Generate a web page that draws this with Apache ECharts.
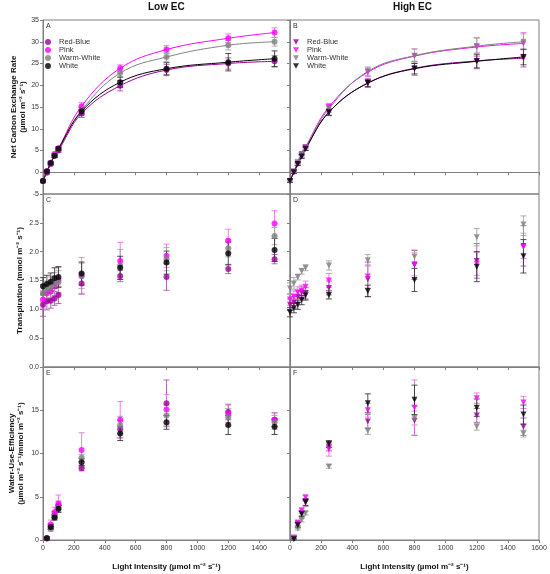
<!DOCTYPE html>
<html style="height: 100%">
<head>
<meta charset="UTF-8">
</head>
<body style="height: 100%; margin: 0; background: #fff">
<div id="container" style="width: 550px; height: 574px"></div>
<script type="text/javascript" src="https://cdn.jsdelivr.net/npm/echarts@6.0.0/dist/echarts.min.js"></script>
<script type="text/javascript">
// light levels
var light = [0, 25, 50, 75, 100, 250, 500, 800, 1200, 1500];
var lightWue = [25, 50, 75, 100, 250, 500, 800, 1200, 1500];
var names = ['Red-Blue', 'Pink', 'Warm-White', 'White'];

// A - net carbon exchange, low EC
var ncerLow = [
  [-2.0, -0.1, 1.9, 3.8, 5.0, 13.5, 19.9, 23.5, 25.0, 25.5],
  [-2.0, 0.3, 2.2, 4.2, 5.5, 15.2, 23.9, 28.2, 30.8, 32.1],
  [-2.0, 0.2, 2.1, 3.9, 5.3, 14.2, 22.8, 26.5, 29.2, 30.0],
  [-2.0, 0.2, 2.1, 3.8, 5.4, 14.0, 20.7, 23.8, 25.3, 26.1]
];
var ncerLowErr = [
  [0.3, 0.3, 0.3, 0.4, 0.4, 0.9, 1.2, 1.3, 1.3, 1.3],
  [0.3, 0.3, 0.3, 0.4, 0.4, 0.8, 0.8, 0.9, 1.0, 1.1],
  [0.3, 0.3, 0.3, 0.4, 0.4, 0.8, 1.0, 1.0, 1.1, 1.0],
  [0.3, 0.3, 0.3, 0.4, 0.4, 0.8, 1.2, 1.4, 2.0, 1.8]
];
// B - net carbon exchange, high EC
var ncerHigh = [
  [-2.0, 0.0, 1.9, 3.7, 5.4, 13.8, 20.5, 23.9, 25.6, 26.2],
  [-2.0, 0.2, 2.3, 4.2, 5.8, 15.0, 23.0, 26.7, 28.8, 29.6],
  [-2.0, 0.2, 2.2, 4.1, 5.7, 14.6, 23.2, 26.8, 29.0, 30.0],
  [-2.0, 0.0, 1.9, 3.6, 5.4, 13.8, 20.5, 23.8, 25.5, 26.5]
];
var ncerHighErr = [
  [0.3, 0.3, 0.3, 0.4, 0.4, 0.8, 1.0, 1.6, 1.8, 2.0],
  [0.3, 0.3, 0.3, 0.4, 0.4, 0.8, 1.0, 1.7, 2.2, 2.5],
  [0.3, 0.3, 0.3, 0.4, 0.4, 0.8, 1.0, 1.5, 1.8, 1.8],
  [0.3, 0.3, 0.3, 0.4, 0.4, 0.7, 0.8, 1.2, 1.5, 1.8]
];
// C - transpiration, low EC
var transLow = [
  [1.08, 1.14, 1.15, 1.19, 1.25, 1.45, 1.58, 1.56, 1.70, 1.87],
  [1.17, 1.28, 1.31, 1.40, 1.51, 1.58, 1.84, 1.93, 2.19, 2.49],
  [1.28, 1.34, 1.38, 1.44, 1.47, 1.58, 1.76, 1.87, 2.06, 2.27],
  [1.40, 1.44, 1.48, 1.54, 1.56, 1.62, 1.72, 1.81, 1.97, 2.03]
];
var transLowErr = [
  [0.20, 0.15, 0.13, 0.12, 0.15, 0.18, 0.10, 0.23, 0.08, 0.08],
  [0.15, 0.15, 0.15, 0.18, 0.22, 0.32, 0.32, 0.20, 0.20, 0.22],
  [0.15, 0.15, 0.18, 0.20, 0.20, 0.22, 0.28, 0.20, 0.15, 0.15],
  [0.15, 0.15, 0.15, 0.18, 0.18, 0.20, 0.20, 0.20, 0.20, 0.20]
];
// D - transpiration, high EC
var transHigh = [
  [1.08, 1.12, 1.22, 1.29, 1.28, 1.37, 1.52, 1.77, 1.84, 2.10],
  [1.17, 1.22, 1.29, 1.32, 1.39, 1.50, 1.57, 1.78, 1.79, 2.08],
  [1.36, 1.45, 1.56, 1.66, 1.72, 1.76, 1.85, 1.91, 2.25, 2.47],
  [0.95, 1.02, 1.08, 1.16, 1.24, 1.25, 1.32, 1.51, 1.74, 1.92]
];
var transHighErr = [
  [0.10, 0.10, 0.10, 0.10, 0.10, 0.12, 0.30, 0.25, 0.30, 0.35],
  [0.10, 0.10, 0.10, 0.10, 0.10, 0.12, 0.20, 0.20, 0.20, 0.20],
  [0.10, 0.10, 0.05, 0.05, 0.05, 0.08, 0.10, 0.12, 0.15, 0.15],
  [0.08, 0.08, 0.08, 0.08, 0.08, 0.07, 0.10, 0.20, 0.26, 0.29]
];
// E - water use efficiency, low EC
var wueLow = [
  [0.2, 1.55, 2.9, 4.0, 8.3, 12.8, 15.8, 14.8, 13.9],
  [0.2, 1.8, 3.2, 4.2, 10.4, 13.9, 15.1, 14.6, 13.9],
  [0.2, 1.3, 2.7, 3.7, 9.5, 13.3, 14.4, 14.2, 13.6],
  [0.2, 1.5, 2.6, 3.6, 9.0, 12.3, 13.6, 13.3, 13.1]
];
var wueLowErr = [
  [0.2, 0.3, 0.4, 0.5, 0.3, 1.0, 2.7, 0.9, 0.8],
  [0.2, 0.5, 0.6, 1.0, 2.0, 2.1, 1.7, 1.0, 0.8],
  [0.2, 0.3, 0.3, 0.4, 0.4, 1.0, 1.2, 1.0, 0.8],
  [0.2, 0.3, 0.3, 0.4, 0.4, 0.8, 0.8, 1.1, 0.9]
];
// F - water use efficiency, high EC
var wueHigh = [
  [0.2, 1.8, 3.1, 4.3, 10.7, 13.7, 13.8, 14.4, 13.1],
  [0.3, 2.0, 3.4, 4.9, 10.5, 15.0, 15.3, 16.4, 15.9],
  [0.2, 1.35, 2.3, 3.1, 8.5, 12.6, 14.1, 13.1, 12.3],
  [0.1, 1.7, 3.0, 4.4, 11.1, 15.8, 16.2, 15.3, 14.5]
];
var wueHighErr = [
  [0.2, 0.3, 0.3, 0.4, 0.4, 0.8, 1.7, 0.8, 1.0],
  [0.2, 0.3, 0.3, 0.3, 0.8, 0.8, 3.2, 0.6, 0.7],
  [0.2, 0.2, 0.2, 0.2, 0.2, 0.4, 0.8, 0.4, 0.4],
  [0.1, 0.3, 0.3, 0.4, 0.4, 1.1, 1.7, 1.0, 1.1]
];

var colors = ['#990099', '#ff00ff', '#808080', '#000000'];
var errColors = ['#a54fa5', '#e36ee3', '#a0a0a0', '#333333'];
var axisGray = '#7f7f7f';
var tri = 'path://M0,0 L10,0 L5,9 Z';

var myChart = echarts.init(document.getElementById('container'));

var gridPos = [
  { left: 43, top: 20, width: 247, height: 174 },
  { left: 290, top: 20, width: 249, height: 174 },
  { left: 43, top: 194, width: 247, height: 173 },
  { left: 290, top: 194, width: 249, height: 173 },
  { left: 43, top: 367, width: 247, height: 173 },
  { left: 290, top: 367, width: 249, height: 173 }
];
var grids = gridPos.map(function (g) {
  return Object.assign({ show: true, borderColor: axisGray, borderWidth: 1, backgroundColor: 'transparent', containLabel: false }, g);
});

var labelStyle = { color: '#333', fontSize: 7, fontFamily: 'Arial' };
var nameStyle = { color: '#111', fontSize: 8, fontWeight: 'bold', fontFamily: 'Arial', lineHeight: 9 };

var xAxes = [];
for (var i = 0; i < 6; i++) {
  var bottomRow = i >= 4;
  xAxes.push({
    type: 'value', gridIndex: i, min: 0, max: 1600, interval: 200,
    axisLine: { show: true, lineStyle: { color: axisGray } },
    axisTick: { show: true, length: 3, lineStyle: { color: axisGray } },
    splitLine: { show: false },
    axisLabel: Object.assign({ show: bottomRow, margin: 5, showMaxLabel: i === 5, formatter: function (v) { return String(v); } }, labelStyle),
    name: bottomRow ? 'Light Intensity (µmol m⁻² s⁻¹)' : '',
    nameLocation: 'middle', nameGap: 22, nameTextStyle: nameStyle
  });
}

var yCfg = [
  { min: -5, max: 35, interval: 5, name: 'Net Carbon Exchange Rate\n(µmol m⁻² s⁻¹)', fmt: null, top: true, gap: 16 },
  { min: 0, max: 3, interval: 0.5, name: 'Transpiration (mmol m⁻² s⁻¹)', fmt: function (v) { return v.toFixed(1); }, top: false, gap: 19 },
  { min: 0, max: 20, interval: 5, name: 'Water-Use-Efficiency\n(µmol m⁻² s⁻¹/mmol m⁻² s⁻¹)', fmt: null, top: false, gap: 18 }
];
var yAxes = [];
for (var i = 0; i < 6; i++) {
  var c = yCfg[Math.floor(i / 2)];
  var leftCol = i % 2 === 0;
  yAxes.push({
    type: 'value', gridIndex: i, min: c.min, max: c.max, interval: c.interval,
    axisLine: { show: true, lineStyle: { color: axisGray } },
    axisTick: { show: true, length: 3, lineStyle: { color: axisGray } },
    splitLine: { show: false },
    axisLabel: Object.assign({ show: leftCol, margin: 4, showMaxLabel: c.top, formatter: c.fmt }, labelStyle),
    name: leftCol ? c.name : '',
    nameLocation: 'middle', nameGap: c.gap, nameTextStyle: nameStyle
  });
}

var series = [];
function addPanel(gi, xs, vals, errs, high, curve) {
  for (var s = 0; s < 4; s++) {
    var pts = xs.map(function (x, k) { return [x, vals[s][k], errs[s][k]]; });
    series.push({
      type: 'custom', name: names[s] + ' err', xAxisIndex: gi, yAxisIndex: gi,
      data: pts, z: 2, silent: true,
      renderItem: (function (col) {
        return function (params, api) {
          var x = api.value(0), y = api.value(1), e = api.value(2);
          var p1 = api.coord([x, y - e]), p2 = api.coord([x, y + e]);
          var w = 3;
          var st = { stroke: col, lineWidth: 1, opacity: 0.85 };
          return { type: 'group', children: [
            { type: 'line', shape: { x1: p1[0], y1: p1[1], x2: p2[0], y2: p2[1] }, style: st },
            { type: 'line', shape: { x1: p1[0] - w, y1: p1[1], x2: p1[0] + w, y2: p1[1] }, style: st },
            { type: 'line', shape: { x1: p2[0] - w, y1: p2[1], x2: p2[0] + w, y2: p2[1] }, style: st }
          ] };
        };
      })(errColors[s])
    });
    if (curve) {
      series.push({
        type: 'line', name: names[s] + ' fit', xAxisIndex: gi, yAxisIndex: gi,
        data: pts.map(function (p) { return [p[0], p[1]]; }),
        smooth: 0.4, showSymbol: false, silent: true, z: 3,
        lineStyle: { color: colors[s], width: 1 }
      });
    }
    series.push({
      type: 'scatter', name: names[s], xAxisIndex: gi, yAxisIndex: gi,
      data: pts.map(function (p) { return [p[0], p[1]]; }),
      symbol: high ? 'triangle' : 'circle', symbolRotate: high ? 180 : 0,
      symbolSize: 6, z: 4,
      itemStyle: { color: colors[s] }
    });
  }
}
addPanel(0, light, ncerLow, ncerLowErr, false, true);
addPanel(1, light, ncerHigh, ncerHighErr, true, true);
addPanel(2, light, transLow, transLowErr, false, false);
addPanel(3, light, transHigh, transHighErr, true, false);
addPanel(4, lightWue, wueLow, wueLowErr, false, false);
addPanel(5, lightWue, wueHigh, wueHighErr, true, false);

var legendText = { color: '#333', fontSize: 7.5, fontFamily: 'Arial', lineHeight: 8, padding: [0, 0, 0, 3] };
var panelLetters = ['A', 'B', 'C', 'D', 'E', 'F'];

option = {
  animation: false,
  grid: grids,
  xAxis: xAxes,
  yAxis: yAxes,
  legend: [
    {
      left: 45, top: 38, orient: 'vertical', padding: 0, itemGap: 0,
      itemWidth: 6, itemHeight: 6, textStyle: legendText, selectedMode: false,
      data: names.map(function (n) { return { name: n, icon: 'circle' }; })
    },
    {
      left: 293, top: 38, orient: 'vertical', padding: 0, itemGap: 0,
      itemWidth: 6, itemHeight: 6, textStyle: legendText, selectedMode: false,
      data: names.map(function (n) { return { name: n, icon: tri }; })
    }
  ],
  graphic: panelLetters.map(function (t, k) {
    return {
      type: 'text', left: gridPos[k].left + 3, top: gridPos[k].top + 3,
      style: { text: t, fill: '#333', fontSize: 7, fontFamily: 'Arial' }
    };
  }).concat([
    { type: 'text', left: 148, top: 2, style: { text: 'Low EC', fill: '#111', fontSize: 10, fontWeight: 'bold', fontFamily: 'Arial' } },
    { type: 'text', left: 393, top: 2, style: { text: 'High EC', fill: '#111', fontSize: 10, fontWeight: 'bold', fontFamily: 'Arial' } }
  ]),
  series: series
};
option && myChart.setOption(option);
</script>
</body>
</html>
